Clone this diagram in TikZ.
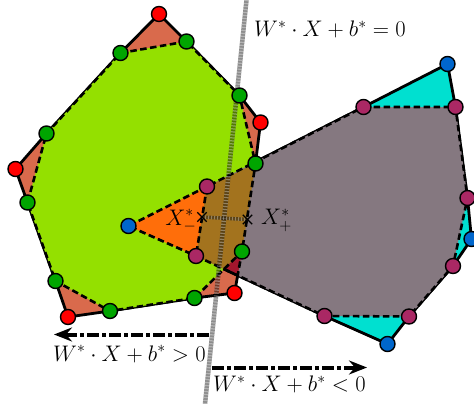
\RequirePackage{fix-cm}
\documentclass[tikz,border=0pt]{standalone}
\usetikzlibrary{arrows.meta,shapes.misc}
\definecolor{ptred}{RGB}{255,0,0}
\definecolor{ptgreen}{RGB}{0,165,0}
\definecolor{ptblue}{RGB}{0,102,204}
\definecolor{ptmag}{RGB}{170,40,100}
\definecolor{ringleft}{RGB}{217,106,76}
\definecolor{innerleft}{RGB}{148,224,0}
\definecolor{ringright}{RGB}{0,224,208}
\definecolor{innerright}{RGB}{133,120,128}
\definecolor{overbrown}{RGB}{163,115,30}
\definecolor{overorange}{RGB}{255,110,10}
\definecolor{overdark}{RGB}{165,22,45}
\begin{document}
\begin{tikzpicture}[x=1pt,y=-1pt,
  hull/.style={line width=2.8pt, line join=round},
  reduced/.style={line width=2.6pt, dash pattern=on 6.5pt off 3.5pt, line join=round},
  pt/.style={circle, draw=black, line width=1.4pt, minimum size=15pt, inner sep=0pt},
  sep/.style={line width=4.5pt, black, opacity=0.45},
  sepstripe/.style={line width=4.5pt, white, opacity=0.35, dash pattern=on 1.2pt off 1.8pt},
  side/.style={line width=4pt, dash pattern=on 12pt off 3pt on 4pt off 3pt, -{Stealth[length=18pt,width=14pt,inset=6pt]}},
  lab/.style={inner sep=0pt, font=\fontsize{22.5}{27}\selectfont},
  crossmark/.style={draw, cross out, minimum size=8pt, inner sep=0pt, line width=1.3pt}]
\useasboundingbox (0,0) rectangle (474,404);
% left class points
\coordinate (R1) at (159,14);
\coordinate (R2) at (260.5,122.5);
\coordinate (R3) at (234.5,293);
\coordinate (R4) at (68,317);
\coordinate (R5) at (15.5,169);
\coordinate (G1) at (120.5,53);
\coordinate (G2) at (186.5,41.5);
\coordinate (G3) at (239.5,95.5);
\coordinate (G4) at (255.5,163.5);
\coordinate (G5) at (242,251.5);
\coordinate (G6) at (194.5,298);
\coordinate (G7) at (110,311);
\coordinate (G8) at (55.5,281);
\coordinate (G9) at (27.5,202.5);
\coordinate (G10) at (46.5,133.5);
% right class points
\coordinate (B1) at (447.5,64);
\coordinate (B2) at (471.5,239);
\coordinate (B3) at (387.5,344);
\coordinate (B4) at (128.5,226);
\coordinate (M1) at (363.5,107);
\coordinate (M2) at (455.5,107);
\coordinate (M3) at (467.5,198);
\coordinate (M4) at (453,266);
\coordinate (M5) at (409,316.5);
\coordinate (M6) at (324.5,316);
\coordinate (M7) at (196,256);
\coordinate (M8) at (207,186.5);
\coordinate (P) at (intersection of G5--G6 and M7--M6);
\coordinate (Q) at (intersection of G5--R3 and M7--M6);
% separator and margin points
\coordinate (S1) at (246.5,0);
\coordinate (S2) at (205,404);
\coordinate (Xm) at (202,217);
\coordinate (Xp) at (247.5,219.5);
% outer hulls
\filldraw[fill=ringleft, hull] (R1)--(G2)--(G3)--(R2)--(G4)--(G5)--(R3)--(G6)--(G7)--(R4)--(G8)--(G9)--(R5)--(G10)--(G1)--cycle;
\filldraw[fill=ringright, hull] (B1)--(M2)--(M3)--(B2)--(M4)--(M5)--(B3)--(M6)--(M7)--(B4)--(M8)--(M1)--cycle;
% reduced hulls
\fill[innerleft] (G1)--(G2)--(G3)--(G4)--(G5)--(G6)--(G7)--(G8)--(G9)--(G10)--cycle;
\fill[innerright] (M1)--(M2)--(M3)--(M4)--(M5)--(M6)--(M7)--(M8)--cycle;
% overlaps
\fill[overorange] (B4)--(M8)--(M7)--cycle;
\fill[overbrown] (M8)--(G4)--(G5)--(P)--(M7)--cycle;
\fill[overdark] (G5)--(P)--(Q)--cycle;
% dashed outlines
\draw[reduced] (G1)--(G2)--(G3)--(G4)--(G5)--(G6)--(G7)--(G8)--(G9)--(G10)--cycle;
\draw[reduced] (M1)--(M2)--(M3)--(M4)--(M5)--(M6)--(M7)--(M8)--cycle;
\draw[reduced] (M8)--(B4)--(M7);
\draw[reduced] (G5)--(Q)--(P);
% separating line and margin segment
\draw[sep] (S1)--(S2);
\draw[sepstripe] (S1)--(S2);
\draw[sep, line width=3.5pt] (Xm)--(Xp);
\draw[sepstripe, line width=3.5pt] (Xm)--(Xp);
\node[crossmark] (xm) at (Xm) {};
\node[crossmark] (xp) at (Xp) {};
\node[lab, anchor=base east] (lxm) at (196.5,225) {$X^*_-$};
\node[lab, anchor=base west] (lxp) at (261,224.5) {$X^*_+$};
% labels and arrows
\node[lab, anchor=base west] (lzero) at (254,36.5) {$W^*\cdot X+b^*=0$};
\node[lab, anchor=base west] (lpos) at (53,361) {$W^*\cdot X+b^*>0$};
\node[lab, anchor=base west] (lneg) at (213,391.5) {$W^*\cdot X+b^*<0$};
\coordinate (A1s) at (208.5,334.5);
\coordinate (A1e) at (54,334.5);
\coordinate (A2s) at (212,367.5);
\coordinate (A2e) at (367,367.5);
\draw[side] (A1s)--(A1e);
\draw[side] (A2s)--(A2e);
% points
\foreach \p in {R1,R2,R3,R4,R5} \node[pt, fill=ptred] (n\p) at (\p) {};
\foreach \p in {G1,G2,G3,G4,G5,G6,G7,G8,G9,G10} \node[pt, fill=ptgreen] (n\p) at (\p) {};
\foreach \p in {B1,B2,B3,B4} \node[pt, fill=ptblue] (n\p) at (\p) {};
\foreach \p in {M1,M2,M3,M4,M5,M6,M7,M8} \node[pt, fill=ptmag] (n\p) at (\p) {};
\end{tikzpicture}
\end{document}
